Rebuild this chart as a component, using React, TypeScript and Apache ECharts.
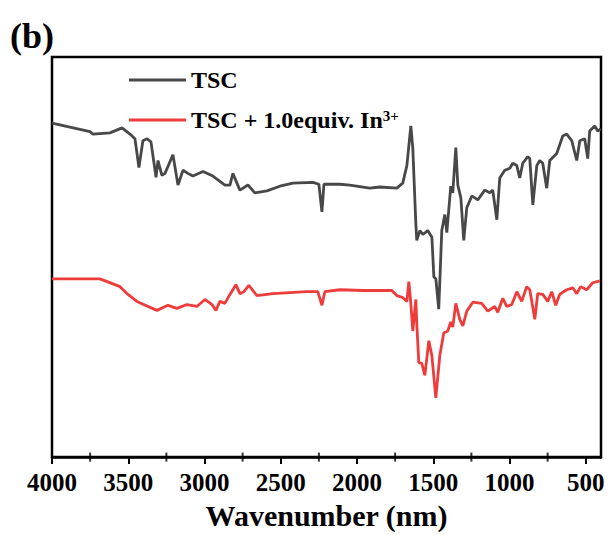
import React, { useEffect, useRef } from "react";
import * as echarts from "echarts";

// TSC spectrum (wavenumber, signal)
const tscWavenumber = [4000,3751,3731,3620,3541,3489,3456,3430,3404,3377,3351,3318,3305,3279,3259,3207,3174,3141,3109,3076,3010,2945,2866,2833,2814,2768,2715,2670,2591,2506,2420,2289,2250,2230,2217,2112,2047,1916,1850,1739,1700,1673,1647,1634,1614,1608,1588,1568,1536,1509,1496,1483,1464,1444,1424,1411,1385,1372,1352,1339,1319,1300,1280,1247,1208,1162,1129,1110,1083,1064,1031,998,979,952,933,913,880,867,847,821,802,782,756,736,690,651,625,592,559,539,507,487,474,441,422,402];
const tscSignal = [85.8,83.6,83.0,83.3,84.6,83.0,81.8,74.4,81.3,81.8,81.0,71.9,76.2,72.4,72.9,77.7,69.9,73.7,72.9,72.2,73.4,72.2,69.9,69.9,72.9,68.6,69.9,67.9,68.4,69.6,70.4,70.6,70.1,63.0,70.1,70.1,69.9,69.1,69.4,69.1,70.4,74.9,85.1,79.3,59.8,55.7,58.2,57.2,58.2,56.5,46.3,45.8,38.0,58.2,62.3,57.7,69.6,67.9,79.5,69.9,66.6,55.7,64.1,67.1,66.1,68.6,67.9,68.6,61.0,71.7,73.7,74.2,75.5,74.9,71.7,75.5,77.2,76.7,64.8,74.9,76.2,75.5,69.1,76.2,78.0,82.5,83.0,81.3,76.2,81.3,81.8,76.7,83.8,85.1,83.8,84.3];

// TSC + 1.0 equiv. In3+ spectrum
const inWavenumber = [4000,3751,3685,3554,3502,3443,3312,3240,3181,3115,3050,2997,2951,2925,2899,2866,2833,2794,2768,2742,2709,2656,2552,2329,2257,2230,2211,2112,1962,1772,1739,1700,1673,1660,1647,1634,1614,1608,1595,1575,1555,1529,1509,1483,1457,1431,1405,1385,1372,1352,1326,1306,1280,1241,1182,1142,1097,1077,1044,1018,985,952,920,887,867,834,815,782,749,723,697,671,625,585,559,533,494,454,408];
const inSignal = [45.8,45.8,45.8,43.8,41.8,40.0,37.7,39.0,38.2,39.2,38.7,40.5,39.2,37.7,40.0,39.5,41.8,44.3,42.0,42.5,44.1,41.5,42.0,42.5,42.5,39.0,42.5,43.0,42.8,42.8,41.5,41.0,40.0,45.1,39.5,32.4,40.5,34.4,24.3,24.1,21.0,29.9,26.1,15.2,26.1,31.9,32.4,34.7,33.4,39.5,35.4,33.7,37.5,39.8,39.5,37.5,38.7,37.2,40.8,38.7,39.2,42.5,40.0,43.8,43.0,35.4,42.0,41.8,40.0,42.5,39.0,41.8,43.0,43.5,42.0,43.8,43.0,44.8,45.3];

const seriesNames = ["TSC", "TSC + 1.0equiv. In3+"];
const majorTicks = [500, 1000, 1500, 2000, 2500, 3000, 3500, 4000];
const minorTicks = [750, 1250, 1750, 2250, 2750, 3250, 3750];
const Y_MIN = 0;
const Y_MAX = 102.8;

const FONT = "'Liberation Serif', 'Times New Roman', serif";

export default function App() {
  const ref = useRef<HTMLDivElement>(null);
  useEffect(() => {
    document.body.style.margin = "0";
    if (!ref.current) return;
    const chart = echarts.init(ref.current, undefined, { renderer: "svg" });
    const legendText = {
      fontFamily: FONT,
      fontWeight: "bold",
      fontSize: 24,
      color: "#000",
      lineHeight: 24,
      rich: {
        sup: { fontFamily: FONT, fontWeight: "bold", fontSize: 15, lineHeight: 12, verticalAlign: "top", color: "#000" },
      },
    };
    chart.setOption({
      animation: false,
      backgroundColor: "#fff",
      grid: {
        left: 52,
        right: 9,
        top: 57,
        bottom: 72,
        show: true,
        borderColor: "#000",
        borderWidth: 2.5,
        backgroundColor: "transparent",
      },
      legend: [
        {
          data: [seriesNames[0]],
          left: 124,
          top: 63,
          icon: "rect",
          itemWidth: 57,
          itemHeight: 3,
          textStyle: legendText,
        },
        {
          data: [seriesNames[1]],
          left: 124,
          top: 103,
          icon: "rect",
          itemWidth: 57,
          itemHeight: 3,
          textStyle: legendText,
          formatter: () => "TSC + 1.0equiv. In{sup|3+}",
        },
      ],
      graphic: [
        {
          type: "text",
          left: 10,
          top: 18,
          style: { text: "(b)", font: `bold 36px ${FONT}`, fill: "#000" },
        },
      ],
      xAxis: {
        type: "value",
        min: 400,
        max: 4000,
        inverse: true,
        position: "bottom",
        name: "Wavenumber (nm)",
        nameLocation: "middle",
        nameGap: 39,
        nameTextStyle: { fontFamily: FONT, fontWeight: "bold", fontSize: 30, color: "#000" },
        axisLine: { show: true, lineStyle: { color: "#000", width: 2.5 } },
        axisTick: { show: true, inside: false, length: 7, lineStyle: { color: "#000", width: 2 }, customValues: majorTicks },
        axisLabel: {
          show: true,
          margin: 13,
          fontFamily: FONT,
          fontWeight: "bold",
          fontSize: 25,
          color: "#000",
          customValues: majorTicks,
          formatter: (v: number) => String(v),
        },
        splitLine: { show: false },
      },
      yAxis: {
        type: "value",
        min: Y_MIN,
        max: Y_MAX,
        show: false,
        splitLine: { show: false },
      },
      series: [
        {
          name: seriesNames[0],
          type: "line",
          data: tscWavenumber.map((x, i) => [x, tscSignal[i]]),
          showSymbol: false,
          symbol: "none",
          lineStyle: { color: "#484848", width: 2.8 },
          itemStyle: { color: "#484848" },
        },
        {
          name: seriesNames[1],
          type: "line",
          data: inWavenumber.map((x, i) => [x, inSignal[i]]),
          showSymbol: false,
          symbol: "none",
          lineStyle: { color: "#ee3b3b", width: 2.8 },
          itemStyle: { color: "#ee3b3b" },
        },
        {
          // minor ticks of the wavenumber axis, hung below the bottom edge
          name: "minor ticks",
          type: "scatter",
          data: minorTicks.map((v) => [v, Y_MIN]),
          symbol: "rect",
          symbolSize: [2, 9],
          symbolOffset: [0, 0],
          clip: false,
          silent: true,
          z: 5,
          itemStyle: { color: "#000" },
        },
      ],
    });
    return () => chart.dispose();
  }, []);
  return <div ref={ref} style={{ width: 610, height: 535 }} />;
}
